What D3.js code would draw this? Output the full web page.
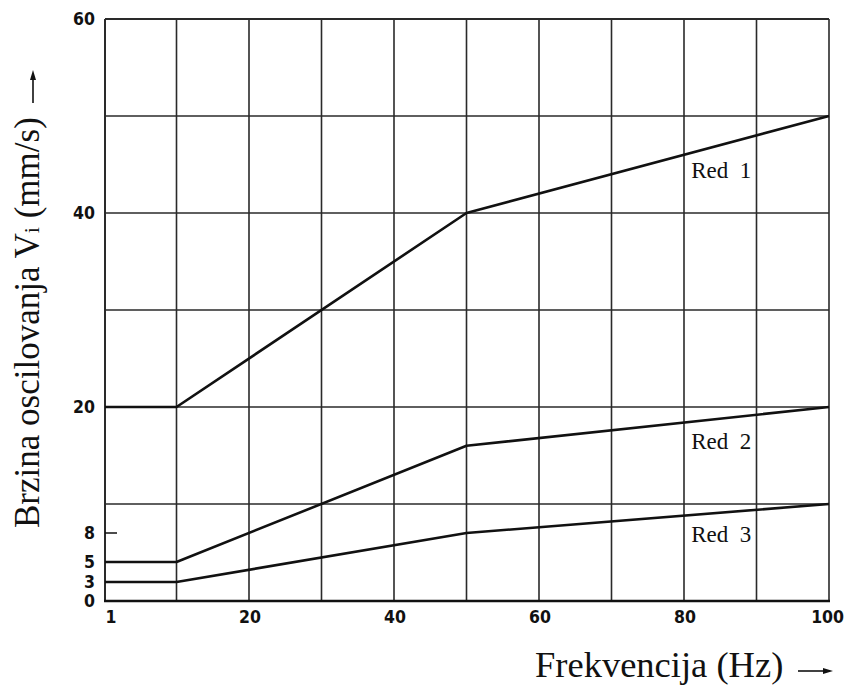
<!DOCTYPE html>
<html>
<head>
<meta charset="utf-8">
<script src="https://cdn.jsdelivr.net/npm/d3@7"></script>
<style>
  html, body { margin: 0; padding: 0; background: #fff; }
  svg { display: block; }
</style>
</head>
<body>
<svg id="chart" width="845" height="686"></svg>
<script>
// ---- data ----
const freq = [1, 10, 50, 100];
const red1 = [20, 20, 40, 50];
const red2 = [5, 5, 16, 20];
const red3 = [3, 3, 8, 10];
const seriesNames = ["Red 1", "Red 2", "Red 3"];
const xGridValues = [1, 10, 20, 30, 40, 50, 60, 70, 80, 90, 100];
const xTickLabels = [1, 20, 40, 60, 80, 100];
const yGridValues = [10, 20, 30, 40, 50, 60];
const yTickLabels = [0, 3, 5, 8, 20, 40, 60];
const yMinorTicks = [3, 5, 8];
// label anchor points in data units (frequency, velocity)
const labelFreq = [81, 81, 81];
const labelVel = [43.6, 15.7, 7.07];

const xTitle = "Frekvencija (Hz)";
const yTitleMain = "Brzina oscilovanja V";
const yTitleSub = "i";
const yTitleUnit = " (mm/s)";

// ---- scales (the printed chart has a stretched first decade and a stretched low range) ----
const x = d3.scaleLinear().domain([1, 10, 100]).range([105, 176.5, 829]);
const y = d3.scaleLinear().domain([0, 3, 5, 8, 10, 60]).range([601, 582, 562, 533, 504, 19]);

const svg = d3.select("#chart");
const ink = "#111";
const gridCol = "#2a2a2a";

// grid
svg.append("g").selectAll("line").data(xGridValues).join("line")
  .attr("x1", d => x(d)).attr("x2", d => x(d))
  .attr("y1", y(60)).attr("y2", y(0))
  .attr("stroke", gridCol).attr("stroke-width", d => d === 1 ? 2 : 1.6);

svg.append("g").selectAll("line").data(yGridValues).join("line")
  .attr("x1", x(1)).attr("x2", x(100))
  .attr("y1", d => y(d)).attr("y2", d => y(d))
  .attr("stroke", gridCol).attr("stroke-width", d => d === 60 ? 2.2 : 1.5);

// bottom axis line
svg.append("line")
  .attr("x1", x(1) - 1).attr("x2", x(100) + 1)
  .attr("y1", y(0)).attr("y2", y(0))
  .attr("stroke", ink).attr("stroke-width", 2.6);

// minor ticks on left
svg.append("g").selectAll("line").data(yMinorTicks).join("line")
  .attr("x1", x(1)).attr("x2", x(1) + 12)
  .attr("y1", d => y(d)).attr("y2", d => y(d))
  .attr("stroke", ink).attr("stroke-width", 1.5);

// tick labels
const tickFont = "'DejaVu Sans Condensed', 'DejaVu Sans', sans-serif";
svg.append("g").selectAll("text").data(xTickLabels).join("text")
  .attr("x", d => d === 100 ? 844 : x(d) + (d === 1 ? 6 : 1))
  .attr("y", 623)
  .attr("text-anchor", d => d === 100 ? "end" : "middle")
  .attr("font-family", tickFont)
  .attr("font-stretch", "condensed")
  .attr("font-weight", "bold")
  .attr("font-size", 17.5)
  .attr("fill", ink)
  .text(d => d);

svg.append("g").selectAll("text").data(yTickLabels).join("text")
  .attr("x", 95)
  .attr("y", d => y(d))
  .attr("dy", "0.36em")
  .attr("text-anchor", "end")
  .attr("font-family", tickFont)
  .attr("font-stretch", "condensed")
  .attr("font-weight", "bold")
  .attr("font-size", 17.5)
  .attr("fill", ink)
  .text(d => d);

// series lines
const series = [red1, red2, red3];
const line = d3.line().x((d, i) => x(freq[i])).y(d => y(d));
svg.append("g").selectAll("path").data(series).join("path")
  .attr("d", d => line(d))
  .attr("fill", "none")
  .attr("stroke", ink)
  .attr("stroke-width", 2.6)
  .attr("stroke-linejoin", "round");

// series labels
svg.append("g").selectAll("text").data(seriesNames).join("text")
  .attr("x", (d, i) => x(labelFreq[i]))
  .attr("y", (d, i) => y(labelVel[i]))
  .attr("font-family", "'Liberation Serif', 'Times New Roman', serif")
  .attr("font-size", 23)
  .attr("fill", ink)
  .style("white-space", "pre")
  .text(d => d.replace(" ", "  "));

// x title
svg.append("text")
  .attr("x", 535).attr("y", 677)
  .attr("font-family", "'Liberation Serif', 'Times New Roman', serif")
  .attr("font-size", 36.5)
  .attr("fill", ink)
  .text(xTitle);

// x arrow
svg.append("line").attr("x1", 798).attr("x2", 826).attr("y1", 671).attr("y2", 671)
  .attr("stroke", ink).attr("stroke-width", 1.6);
svg.append("path").attr("d", "M833,671 L823,668 L823,674 Z").attr("fill", ink);

// y title
const yt = svg.append("text")
  .attr("transform", "translate(39,528) rotate(-90)")
  .attr("font-family", "'Liberation Serif', 'Times New Roman', serif")
  .attr("font-size", 35)
  .attr("fill", ink);
yt.append("tspan").text(yTitleMain);
yt.append("tspan").attr("font-size", 22).text(yTitleSub);
yt.append("tspan").text(yTitleUnit);

// y arrow
svg.append("line").attr("x1", 33).attr("x2", 33).attr("y1", 103).attr("y2", 77)
  .attr("stroke", ink).attr("stroke-width", 1.6);
svg.append("path").attr("d", "M33,70 L30,80 L36,80 Z").attr("fill", ink);
</script>
</body>
</html>
